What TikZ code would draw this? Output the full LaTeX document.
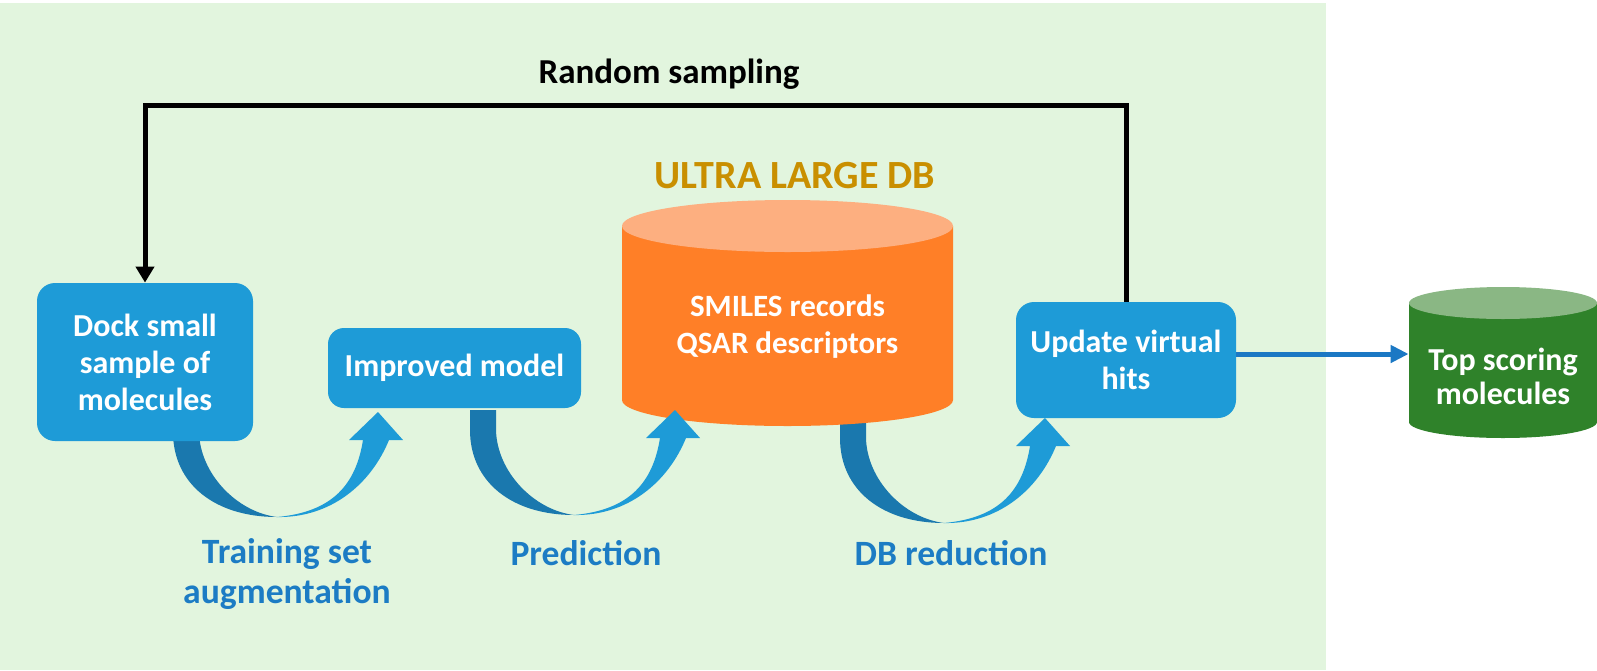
\documentclass[tikz,border=0pt]{standalone}
\usepackage{fontspec}
\setmainfont{Carlito}
\usetikzlibrary{arrows.meta}
\definecolor{panel}{HTML}{E2F5DE}
\definecolor{boxblue}{HTML}{1E9BD7}
\definecolor{darkband}{HTML}{1A78AE}
\definecolor{labelblue}{HTML}{1C7CC4}
\definecolor{gold}{HTML}{C98F00}
\definecolor{orangebody}{HTML}{FF7F27}
\definecolor{orangetop}{HTML}{FDAF80}
\definecolor{greenbody}{HTML}{2F822A}
\definecolor{greentop}{HTML}{8AB784}
\definecolor{linkblue}{HTML}{1B78C4}
\begin{document}
\begin{tikzpicture}[x=0.5pt,y=-0.5pt,
  stepbox/.style={fill=boxblue, rounded corners=9pt, text=white,
    font=\bfseries\fontsize{16pt}{18.5pt}\selectfont, align=center, inner sep=0pt},
  flowlabel/.style={text=labelblue, font=\bfseries\fontsize{17.8pt}{20pt}\selectfont, align=center},
  celltext/.style={text=white, font=\bfseries\fontsize{15.5pt}{18.5pt}\selectfont, align=center},
  loopline/.style={line width=2.5pt, -{Triangle[length=8pt,width=9pt]}},
  linkarrow/.style={draw=linkblue, line width=2.5pt, -{Triangle[length=9pt,width=8.5pt]}},
  bend arrow/.pic={
    \fill[darkband] (0,0) -- (0,20) .. controls (0,72) and (42,105) .. (104,105)
      .. controls (64,100) and (27,62) .. (26,20) -- (26,0) -- cycle;
    \fill[boxblue] (104,105) .. controls (158,106) and (198,72) .. (216,28)
      -- (230,28) -- (205,0) -- (176,28) -- (190,28)
      .. controls (183,72) and (160,100) .. (104,105) -- cycle;
  }
]
\useasboundingbox (0,0) rectangle (1597,670);
\fill[white] (0,0) rectangle (1597,670);
\fill[panel] (0,3) rectangle (1326,670);

% curved arrows (behind boxes)
\pic at (173,412) {bend arrow};
\pic at (840,418) {bend arrow};

% orange database cylinder
\fill[orangebody] (622,226) -- (622,400) arc[start angle=180, end angle=360, x radius=82.75pt, y radius=13pt] -- (953,226) -- cycle;
\fill[orangetop] (787.5,226) ellipse [x radius=82.75pt, y radius=13pt];
\node[celltext] (dbtext) at (787.5,327) {SMILES records\\QSAR descriptors};
\node[text=gold, font=\bfseries\fontsize{20pt}{24pt}\selectfont] (dbtitle) at (795,176) {ULTRA LARGE DB};

\pic at (470,410) {bend arrow};

% green result cylinder
\fill[greenbody] (1409,303) -- (1409,422) arc[start angle=180, end angle=360, x radius=47pt, y radius=8pt] -- (1597,303) -- cycle;
\fill[greentop] (1503,303) ellipse [x radius=47pt, y radius=8pt];
\node[minimum width=94pt, minimum height=75.5pt, inner sep=0pt] (topcyl) at (1503,362.5) {};
\node[celltext, font=\bfseries\fontsize{16pt}{17pt}\selectfont] (toptext) at (1503,376) {Top scoring\\molecules};

% boxes
\node[stepbox, minimum width=108pt, minimum height=79pt] (box1) at (145,362) {Dock small\\sample of\\molecules};
\node[stepbox, rounded corners=8pt, minimum width=126.5pt, minimum height=40pt] (box2) at (454.5,368) {Improved model};
\node[stepbox, minimum width=110pt, minimum height=58pt] (box4) at (1126,360) {Update virtual\\hits};

% loop
\coordinate (loopR) at (1126,105);
\draw[loopline] (box4.north) -- (box4.north |- loopR) -| (box1.north);
\node[font=\bfseries\fontsize{17.5pt}{20pt}\selectfont] (rs) at (669,74) {Random sampling};

% output arrow
\draw[linkarrow] ([yshift=3pt]box4.east) -- ([yshift=3pt]box4.east -| topcyl.west);

% labels
\node[flowlabel] (lab1) at (287,574) {Training set\\augmentation};
\node[flowlabel] (lab2) at (586,553) {Prediction};
\node[flowlabel] (lab3) at (951,553) {DB reduction};
\end{tikzpicture}
\end{document}
